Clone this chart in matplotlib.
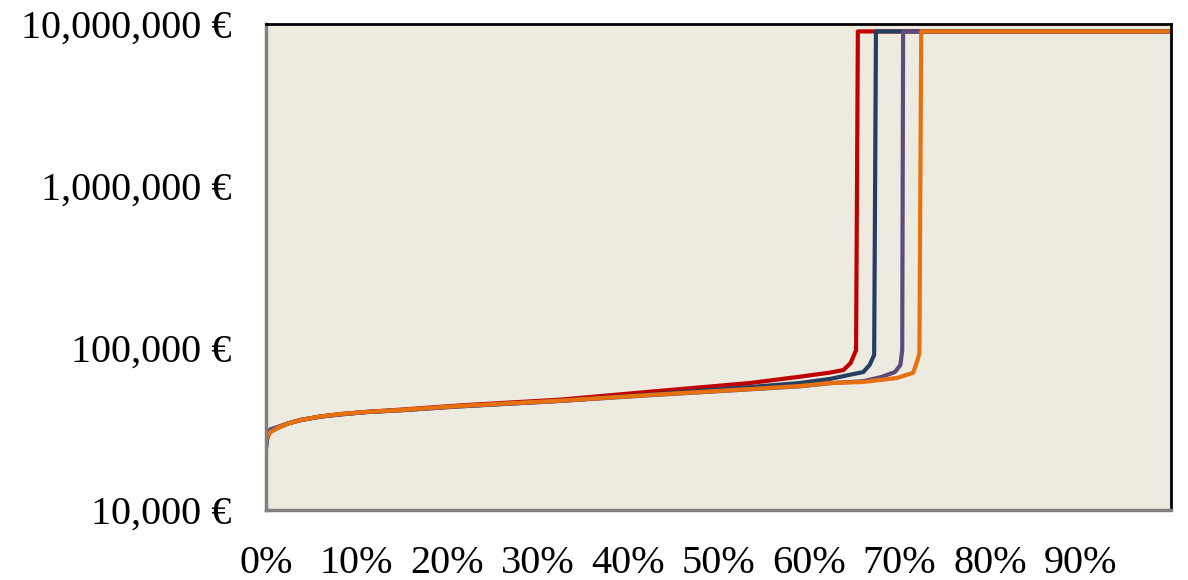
import matplotlib
matplotlib.use("Agg")
import matplotlib.pyplot as plt
from matplotlib.ticker import FuncFormatter, NullLocator

# share of cases (%) vs. amount in euros, one curve per scenario
red_pct = [0, 0.2, 0.5, 1.5, 2.5, 3.8, 6.0, 8.2, 11.0, 14.8, 21.4, 32.5, 42.4, 53.5, 59.0, 62.3, 63.8, 64.6, 65.2, 65.4, 100]
red_val = [27000, 28500, 30500, 32500, 34300, 35900, 37800, 39100, 40300, 41600, 44200, 48000, 53700, 60800, 66500, 70500, 73100, 80800, 97000, 9000000, 9000000]

blue_pct = [0, 0.2, 0.5, 1.5, 2.5, 3.8, 6.0, 8.2, 11.0, 14.8, 21.4, 32.5, 42.4, 53.5, 59.0, 62.3, 66.0, 66.7, 67.2, 67.4, 100]
blue_val = [24000, 29000, 31000, 32800, 34300, 35900, 37700, 38900, 40200, 41300, 43700, 47200, 51600, 57400, 60800, 64400, 71100, 78600, 90600, 9000000, 9000000]

purple_pct = [0, 0.2, 0.5, 1.5, 2.5, 3.8, 6.0, 8.2, 11.0, 14.8, 21.4, 32.5, 42.4, 53.5, 59.0, 62.3, 66.0, 68.0, 69.5, 70.1, 70.3, 70.4, 100]
purple_val = [28000, 30500, 31500, 32800, 34300, 35900, 37700, 38900, 40200, 41200, 43600, 47100, 51100, 55600, 58000, 60600, 62400, 66200, 71100, 78600, 97000, 9000000, 9000000]

orange_pct = [0, 0.2, 0.5, 1.5, 2.5, 3.8, 6.0, 8.2, 11.0, 14.8, 21.4, 32.5, 42.4, 53.5, 59.0, 62.3, 66.0, 69.7, 71.5, 72.0, 72.2, 72.4, 100]
orange_val = [26000, 29000, 30300, 32500, 34300, 35900, 37800, 39100, 40300, 41400, 43900, 47300, 51300, 55800, 58200, 60800, 61700, 65300, 70200, 84300, 93000, 9000000, 9000000]

x_ticks = [0, 10, 20, 30, 40, 50, 60, 70, 80, 90]
y_ticks = [1e4, 1e5, 1e6, 1e7]

plt.rcParams['font.family'] = ['Liberation Serif', 'DejaVu Serif']

fig = plt.figure(figsize=(11.88, 5.8), dpi=100)
ax = fig.add_axes([266 / 1188, 1 - 510 / 580, (1171 - 266) / 1188, (510 - 24) / 580])
ax.set_facecolor('#EDEAE0')

series = [
    (red_pct, red_val, '#C00000'),
    (blue_pct, blue_val, '#253F60'),
    (purple_pct, purple_val, '#604A7B'),
    (orange_pct, orange_val, '#E8710F'),
]
for pct, val, color in series:
    ax.plot(pct, val, color=color, lw=3, solid_joinstyle='round')

ax.set_yscale('log')
ax.set_ylim(1e4, 1e7)
ax.set_xlim(0, 100)
ax.set_yticks(y_ticks)
ax.yaxis.set_minor_locator(NullLocator())
ax.yaxis.set_major_formatter(FuncFormatter(lambda v, _: f"{v:,.0f} €"))
ax.set_xticks(x_ticks)
ax.set_xticklabels([f"{t}%" for t in x_ticks])

ax.tick_params(axis='both', length=0, labelsize=29)
ax.tick_params(axis='y', pad=25)
ax.tick_params(axis='x', pad=25)

for side in ['top', 'right']:
    ax.spines[side].set_color('black')
    ax.spines[side].set_linewidth(2)
for side in ['left', 'bottom']:
    ax.spines[side].set_color('#808080')
    ax.spines[side].set_linewidth(2.5)

fig.savefig('out.png', dpi=100, facecolor='white')
